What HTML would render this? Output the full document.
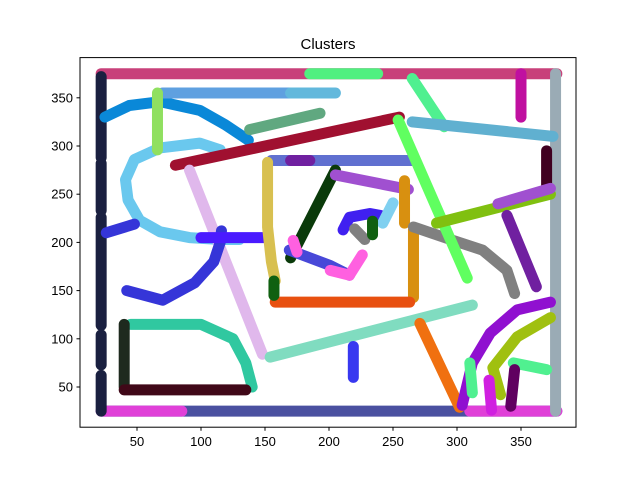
<!DOCTYPE html>
<html><head><meta charset="utf-8"><style>
body{margin:0;background:#fff}
svg text{font-family:"Liberation Sans","DejaVu Sans",sans-serif}
</style></head><body>
<svg id="chart" width="640" height="480" xmlns="http://www.w3.org/2000/svg">
<text x="328" y="49" text-anchor="middle" font-size="15">Clusters</text>
<g id="marks"></g>
<rect x="80" y="57.6" width="496" height="369.6" fill="none" stroke="#000" stroke-width="1"/>
<g id="axes"></g>
</svg>
<script>
const xTicks=[50,100,150,200,250,300,350];
const yTicks=[50,100,150,200,250,300,350];
const clusterColors=["#c8407a","#4a50a0","#e040d8","#e040d8","#1a2040","#1a2040","#1a2040","#1a2040","#1a2040","#9aabb5","#0a88d8","#5fa0e0","#62b8dc","#50f080","#c010a0","#6ac8ee","#a01030","#60a880","#90e060","#e0b8ec","#3535d8","#3535d8","#4a1aff","#6070d0","#d8c050","#0a3a0a","#a050d0","#d89010","#d89010","#e85010","#106010","#4020f0","#4848d8","#ff60e0","#ff60e0","#808080","#808080","#80d0f0","#80dcc0","#30c8a0","#1e2a1e","#400818","#f07010","#60ff60","#50f090","#60b0d0","#400020","#80c010","#a050d0","#7020a0","#9010d0","#a0c010","#50f090","#50f090","#600060","#d020e0","#3838f0","#106010","#7020a0"];
const clusterXs=[[22,378],[22,378],[22,85],[310,378],[22,22],[22,22],[22,22],[22,22],[22,22],[377,377],[25,44,68,99,119,137],[70,170],[170,205],[185,238],[350,350],[115,99,68,48,41,43,52,68,91,115,130],[80,255],[138,193],[66,66],[91,148],[42,70,95,110,115,116],[26,48],[100,150],[155,265],[152,152,155,158],[170,205],[205,262],[259,259],[266,266],[158,263],[157,157],[211,216,232,240],[169,201,216],[172,175],[201,216,226],[266,297,320,339,345],[220,228],[250,242],[154,312],[45,100,125,135,140],[40,40],[40,135],[271,302],[254,308],[265,290],[265,375],[370,370],[284,373],[332,373],[339,362],[304,312,326,347,373],[334,328,347,373],[344,370],[310,312],[345,342],[325,327],[219,219],[234,234],[170,185]];
const clusterYs=[[375,375],[25,25],[25,25],[25,25],[25,62],[73,104],[114,226],[233,282],[288,372],[25,375],[330,342,346,337,322,306],[355,355],[355,355],[375,375],[375,330],[296,303,298,286,265,244,223,211,205,203,203],[280,330],[317,334],[355,296],[275,84],[150,140,158,180,200,212],[210,219],[205,205],[285,285],[283,216,180,160],[184,275],[270,255],[264,220],[213,143],[138,138],[160,145],[213,226,230,228],[192,176,166],[202,190],[171,166,187],[216,202,192,171,147],[214,203],[241,220],[81,135],[115,115,100,75,50],[115,50],[47,47],[116,29],[327,163],[370,320],[325,310],[295,260],[220,250],[240,256],[228,154],[31,75,106,130,138],[42,70,102,122],[75,68],[75,44],[68,30],[57,26],[92,60],[222,208],[285,285]];
const xs=v=>73+v*1.28, ys=v=>435.2-v*0.964;
const NS="http://www.w3.org/2000/svg";
const marks=document.getElementById('marks');
clusterXs.forEach((cx,i)=>{
  const p=document.createElementNS(NS,'polyline');
  p.setAttribute('points',cx.map((x,j)=>xs(x)+','+ys(clusterYs[i][j])).join(' '));
  p.setAttribute('fill','none');p.setAttribute('stroke',clusterColors[i]);
  p.setAttribute('stroke-width','11');p.setAttribute('stroke-linecap','round');p.setAttribute('stroke-linejoin','round');
  
  
  marks.appendChild(p);
});
const axes=document.getElementById('axes');
xTicks.forEach(t=>{
  const l=document.createElementNS(NS,'line');
  l.setAttribute('x1',xs(t));l.setAttribute('x2',xs(t));l.setAttribute('y1',427.2);l.setAttribute('y2',430.7);l.setAttribute('stroke','#000');
  
  
  axes.appendChild(l);
  const tx=document.createElementNS(NS,'text');
  tx.setAttribute('x',xs(t));tx.setAttribute('y',446);tx.setAttribute('text-anchor','middle');tx.setAttribute('font-size','13');tx.textContent=t;
  
  
  axes.appendChild(tx);
});
yTicks.forEach(t=>{
  const l=document.createElementNS(NS,'line');
  l.setAttribute('x1',76.5);l.setAttribute('x2',80);l.setAttribute('y1',ys(t));l.setAttribute('y2',ys(t));l.setAttribute('stroke','#000');
  
  
  axes.appendChild(l);
  const tx=document.createElementNS(NS,'text');
  tx.setAttribute('x',73);tx.setAttribute('y',ys(t)+4.5);tx.setAttribute('text-anchor','end');tx.setAttribute('font-size','13');tx.textContent=t;
  
  
  axes.appendChild(tx);
});
</script>
</body></html>
